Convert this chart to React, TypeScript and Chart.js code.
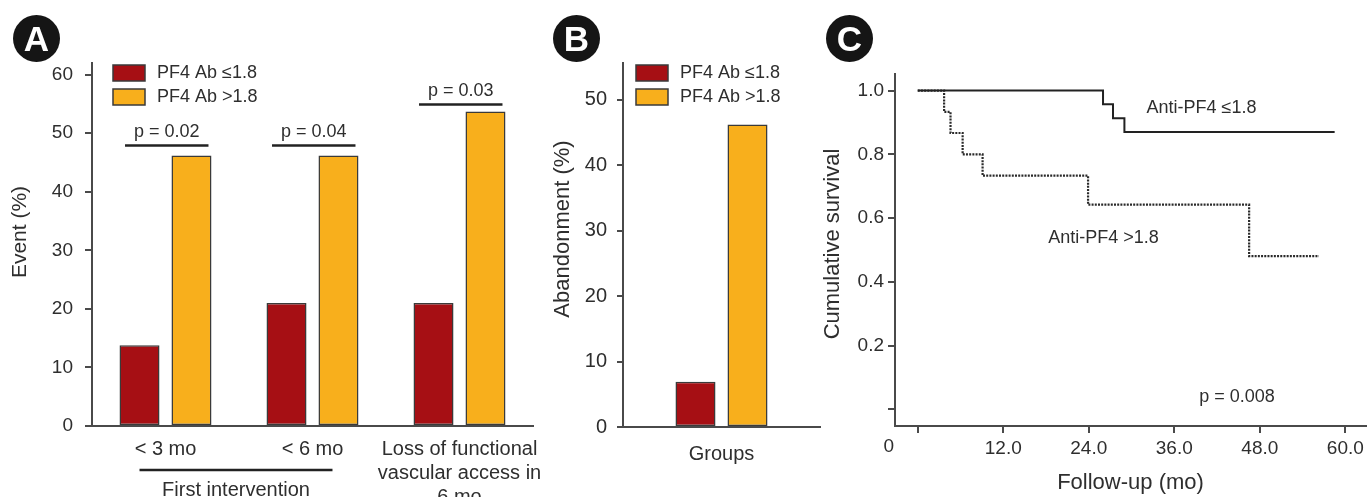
import React, { useEffect, useRef } from 'react';
import { Chart, registerables } from 'chart.js';

Chart.register(...registerables);

const FONT = '"Liberation Sans", Arial, Helvetica, sans-serif';
const TEXT = '#2e2e2e';
const AXIS = '#4a4a4a';
const RED = '#A60F14';
const YELLOW = '#F8AF1C';
const EDGE = '#3a3a3a';

const seriesNames = ['PF4 Ab ≤1.8', 'PF4 Ab >1.8'];

// Panel A
const aCategories = [['< 3 mo'], ['< 6 mo'], ['Loss of functional', 'vascular access in', '6 mo']];
const aLow = [13.8, 21.0, 21.0];
const aHigh = [46.2, 46.2, 53.7];
const aPText = ['p = 0.02', 'p = 0.04', 'p = 0.03'];
const aPLevel = [47.9, 47.9, 54.9];
const aYTicks = [0, 10, 20, 30, 40, 50, 60];
const aYTitle = 'Event (%)';
const aGroupLabel = 'First intervention';

// Panel B
const bCategories = ['Groups'];
const bLow = [6.9];
const bHigh = [46.2];
const bYTicks = [0, 10, 20, 30, 40, 50];
const bYTitle = 'Abandonment (%)';

// Panel C
const cLowTime = [0, 26.0, 27.4, 29.0, 58.5];
const cLowSurv = [1.0, 0.957, 0.913, 0.87, 0.87];
const cHighTime = [0, 3.7, 4.6, 6.3, 9.1, 23.9, 46.5, 56.3];
const cHighSurv = [1.0, 0.933, 0.867, 0.8, 0.733, 0.642, 0.481, 0.481];
const cXTicks = [0, 12, 24, 36, 48, 60];
const cYTicks = [0, 0.2, 0.4, 0.6, 0.8, 1.0];
const cNotes = ['Anti-PF4 ≤1.8', 'Anti-PF4 >1.8', 'p = 0.008'];
const cNoteX = [32.1, 18.3, 39.5];
const cNoteY = [0.946, 0.538, 0.04];
const cXTitle = 'Follow-up (mo)';
const cYTitle = 'Cumulative survival';

function rotText(ctx: CanvasRenderingContext2D, text: string, x: number, y: number, size: number) {
  ctx.save();
  ctx.translate(x, y);
  ctx.rotate(-Math.PI / 2);
  ctx.font = `${size}px ${FONT}`;
  ctx.fillStyle = TEXT;
  ctx.textAlign = 'center';
  ctx.textBaseline = 'middle';
  ctx.fillText(text, 0, 0);
  ctx.restore();
}

function drawLegend(ctx: CanvasRenderingContext2D, x: number, y: number) {
  [RED, YELLOW].forEach((c, i) => {
    const yy = y + i * 24;
    ctx.save();
    ctx.fillStyle = c;
    ctx.fillRect(x, yy, 32, 16);
    ctx.strokeStyle = EDGE;
    ctx.lineWidth = 1.5;
    ctx.strokeRect(x, yy, 32, 16);
    ctx.fillStyle = TEXT;
    ctx.font = `18px ${FONT}`;
    ctx.textAlign = 'left';
    ctx.textBaseline = 'middle';
    ctx.fillText(seriesNames[i], x + 44, yy + 8);
    ctx.restore();
  });
}

const yScaleBase = (size: number, pad: number, tl: number) => ({
  grid: { display: true, drawOnChartArea: false, drawTicks: true, tickLength: tl, color: AXIS, lineWidth: 2 },
  border: { display: true, color: AXIS, width: 2 },
  ticks: { color: TEXT, font: { family: FONT, size }, padding: pad },
});

const noSidePad = (h: number) => (s: any) => {
  s.height = h;
  s.paddingLeft = 0;
  s.paddingRight = 0;
};

function configA(): any {
  return {
    type: 'bar',
    data: {
      labels: aCategories,
      datasets: [
        { label: seriesNames[0], data: aLow, backgroundColor: RED, borderColor: EDGE, borderWidth: 1.5, borderSkipped: false, categoryPercentage: 0.707, barPercentage: 0.77 },
        { label: seriesNames[1], data: aHigh, backgroundColor: YELLOW, borderColor: EDGE, borderWidth: 1.5, borderSkipped: false, categoryPercentage: 0.707, barPercentage: 0.77 },
      ],
    },
    options: {
      responsive: false,
      animation: false,
      layout: { padding: { left: 0, top: 63, right: 12, bottom: 0 } },
      plugins: { legend: { display: false }, tooltip: { enabled: false } },
      scales: {
        x: {
          type: 'category',
          offset: true,
          grid: { display: false, drawTicks: false },
          border: { display: true, color: AXIS, width: 2 },
          ticks: { color: TEXT, font: { family: FONT, size: 20, lineHeight: 1.18 }, padding: 12, maxRotation: 0, autoSkip: false },
          afterFit: noSidePad(71),
        },
        y: {
          min: 0,
          max: 62,
          afterBuildTicks: (s: any) => { s.ticks = aYTicks.map((v) => ({ value: v })); },
          ...yScaleBase(19, 12, 7),
          afterFit: (s: any) => { s.width = 92; },
        },
      },
    },
    plugins: [
      {
        id: 'annA',
        afterDraw(chart: any) {
          const { ctx, chartArea: ca, scales } = chart;
          const m0 = chart.getDatasetMeta(0);
          const m1 = chart.getDatasetMeta(1);
          drawLegend(ctx, ca.left + 21, ca.top + 2);
          ctx.save();
          aPText.forEach((t, i) => {
            const xl = m0.data[i].x - 14.5;
            const xr = m1.data[i].x + 17;
            const y = scales.y.getPixelForValue(aPLevel[i]);
            ctx.strokeStyle = '#222';
            ctx.lineWidth = 2.5;
            ctx.beginPath();
            ctx.moveTo(xl, y);
            ctx.lineTo(xr, y);
            ctx.stroke();
            ctx.fillStyle = TEXT;
            ctx.font = `18px ${FONT}`;
            ctx.textAlign = 'center';
            ctx.textBaseline = 'middle';
            ctx.fillText(t, (xl + xr) / 2, y - 14);
          });
          const gx0 = m0.data[0].x;
          const gx1 = m1.data[1].x - 6;
          const gy = ca.bottom + 44;
          ctx.strokeStyle = '#222';
          ctx.lineWidth = 2.5;
          ctx.beginPath();
          ctx.moveTo(gx0, gy);
          ctx.lineTo(gx1, gy);
          ctx.stroke();
          ctx.fillStyle = TEXT;
          ctx.font = `20px ${FONT}`;
          ctx.textAlign = 'center';
          ctx.textBaseline = 'alphabetic';
          ctx.fillText(aGroupLabel, (gx0 + gx1) / 2, ca.bottom + 70);
          ctx.restore();
          rotText(ctx, aYTitle, ca.left - 72, (ca.top + ca.bottom) / 2 - 12.5, 21);
        },
      },
    ],
  };
}

function configB(): any {
  return {
    type: 'bar',
    data: {
      labels: bCategories,
      datasets: [
        { label: seriesNames[0], data: bLow, backgroundColor: RED, borderColor: EDGE, borderWidth: 1.5, borderSkipped: false, categoryPercentage: 0.528, barPercentage: 0.77 },
        { label: seriesNames[1], data: bHigh, backgroundColor: YELLOW, borderColor: EDGE, borderWidth: 1.5, borderSkipped: false, categoryPercentage: 0.528, barPercentage: 0.77 },
      ],
    },
    options: {
      responsive: false,
      animation: false,
      layout: { padding: { left: 0, top: 63, right: 5, bottom: 0 } },
      plugins: { legend: { display: false }, tooltip: { enabled: false } },
      scales: {
        x: {
          type: 'category',
          offset: true,
          grid: { display: false, drawTicks: false },
          border: { display: true, color: AXIS, width: 2 },
          ticks: { color: TEXT, font: { family: FONT, size: 20 }, padding: 15, maxRotation: 0 },
          afterFit: noSidePad(70),
        },
        y: {
          min: 0,
          max: 55.6,
          afterBuildTicks: (s: any) => { s.ticks = bYTicks.map((v) => ({ value: v })); },
          ...yScaleBase(20, 10, 6),
          afterFit: (s: any) => { s.width = 78; },
        },
      },
    },
    plugins: [
      {
        id: 'annB',
        afterDraw(chart: any) {
          const { ctx, chartArea: ca } = chart;
          drawLegend(ctx, ca.left + 13, ca.top + 2);
          rotText(ctx, bYTitle, ca.left - 60, (ca.top + ca.bottom) / 2 - 16, 22);
        },
      },
    ],
  };
}

function configC(): any {
  const low = cLowTime.map((t, i) => ({ x: t, y: cLowSurv[i] }));
  const high = cHighTime.map((t, i) => ({ x: t, y: cHighSurv[i] }));
  return {
    type: 'scatter',
    data: {
      datasets: [
        { label: cNotes[0], data: low, showLine: true, stepped: true, borderColor: '#222', borderWidth: 2, pointRadius: 0, fill: false },
        { label: cNotes[1], data: high, showLine: true, stepped: true, borderColor: '#2a2a2a', borderWidth: 2.2, borderDash: [2, 1.2], pointRadius: 0, fill: false },
      ],
    },
    options: {
      responsive: false,
      animation: false,
      layout: { padding: { left: 0, top: 74, right: 5, bottom: 0 } },
      plugins: { legend: { display: false }, tooltip: { enabled: false } },
      scales: {
        x: {
          type: 'linear',
          min: -3.19,
          max: 62.9,
          afterBuildTicks: (s: any) => { s.ticks = cXTicks.map((v) => ({ value: v })); },
          grid: { display: true, drawOnChartArea: false, drawTicks: true, tickLength: 7, color: AXIS, lineWidth: 2 },
          border: { display: true, color: AXIS, width: 2 },
          ticks: { color: TEXT, font: { family: FONT, size: 19 }, padding: 4, maxRotation: 0, callback: (v: number) => (v === 0 ? '' : v.toFixed(1)) },
          afterFit: noSidePad(71),
        },
        y: {
          min: -0.052,
          max: 1.052,
          afterBuildTicks: (s: any) => { s.ticks = cYTicks.map((v) => ({ value: v })); },
          ...yScaleBase(19, 4, 7),
          ticks: { color: TEXT, font: { family: FONT, size: 19 }, padding: 4, callback: (v: number) => (v === 0 ? '' : v.toFixed(1)) },
          afterFit: (s: any) => { s.width = 90; },
        },
      },
    },
    plugins: [
      {
        id: 'annC',
        afterDraw(chart: any) {
          const { ctx, chartArea: ca, scales } = chart;
          ctx.save();
          ctx.fillStyle = TEXT;
          ctx.font = `18px ${FONT}`;
          ctx.textAlign = 'left';
          ctx.textBaseline = 'middle';
          cNotes.forEach((t, i) => {
            ctx.fillText(t, scales.x.getPixelForValue(cNoteX[i]), scales.y.getPixelForValue(cNoteY[i]));
          });
          ctx.font = `19px ${FONT}`;
          ctx.textAlign = 'right';
          ctx.textBaseline = 'top';
          ctx.fillText('0', ca.left - 1, ca.bottom + 11);
          ctx.font = `22px ${FONT}`;
          ctx.textAlign = 'center';
          ctx.textBaseline = 'middle';
          ctx.fillText(cXTitle, (ca.left + ca.right) / 2, ca.bottom + 57);
          ctx.restore();
          rotText(ctx, cYTitle, ca.left - 62, (ca.top + ca.bottom) / 2 - 6, 22);
        },
      },
    ],
  };
}

function ChartCanvas({ left, width, makeConfig }: { left: number; width: number; makeConfig: () => any }) {
  const ref = useRef<HTMLCanvasElement>(null);
  useEffect(() => {
    const chart = new Chart(ref.current as HTMLCanvasElement, makeConfig());
    return () => chart.destroy();
  }, []);
  return (
    <canvas
      ref={ref}
      width={width}
      height={497}
      style={{ position: 'absolute', left, top: 0, width, height: 497 }}
    />
  );
}

function Badge({ left, letter }: { left: number; letter: string }) {
  return (
    <div
      style={{
        position: 'absolute',
        left,
        top: 15,
        width: 47,
        height: 47,
        borderRadius: '50%',
        background: '#151515',
        color: '#fff',
        fontFamily: FONT,
        fontWeight: 'bold',
        fontSize: 35,
        lineHeight: '47px',
        textAlign: 'center',
        zIndex: 5,
      }}
    >
      {letter}
    </div>
  );
}

export default function App() {
  return (
    <div style={{ position: 'absolute', left: 0, top: 0, width: 1371, height: 497, background: '#fff', overflow: 'hidden' }}>
      <ChartCanvas left={0} width={545} makeConfig={configA} />
      <ChartCanvas left={545} width={280} makeConfig={configB} />
      <ChartCanvas left={805} width={566} makeConfig={configC} />
      <Badge left={13} letter="A" />
      <Badge left={553} letter="B" />
      <Badge left={826} letter="C" />
    </div>
  );
}
